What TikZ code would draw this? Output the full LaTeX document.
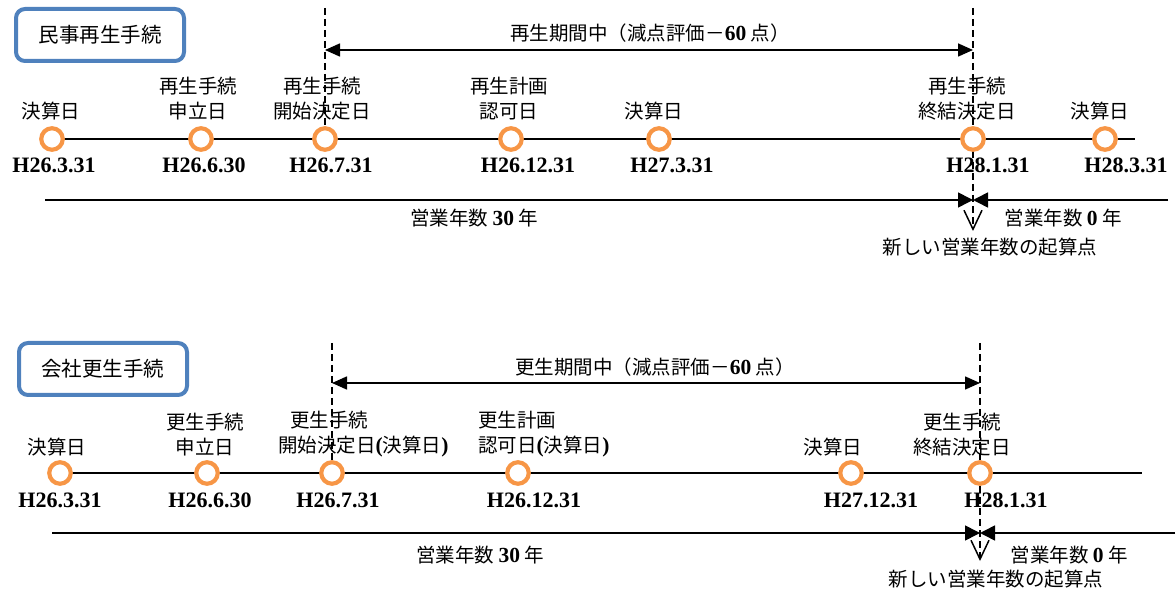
\documentclass[tikz,border=0pt]{standalone}
\usepackage{fontspec}
\setmainfont{Noto Sans CJK JP}
\newfontfamily\numfont{Liberation Serif}
\usetikzlibrary{arrows.meta}
\newcommand\bnum[1]{{\numfont\bfseries\fontsize{21.5}{25}\selectfont #1}}

\begin{document}
\begin{tikzpicture}[x=1pt, y=-1pt,
  every node/.style={font=\fontsize{19.5}{25}\selectfont, inner sep=0pt},
  lbl/.style={align=center},
  lbll/.style={align=left, anchor=west},
  datelbl/.style={font=\numfont\bfseries\fontsize{22}{25}\selectfont},
  pt/.style={circle, draw=ptorange, line width=4.2pt, fill=white, minimum size=21.5pt},
  titlebox/.style={draw=boxblue, line width=4pt, rounded corners=9pt, minimum width=168pt, minimum height=52pt, font=\fontsize{20.5}{25}\selectfont},
  axis/.style={line width=1.6pt},
  period/.style={line width=1.6pt, {Triangle[length=15pt,width=13pt]}-{Triangle[length=15pt,width=13pt]}},
  marker/.style={line width=1.3pt, dash pattern=on 7pt off 4pt},
  endmark/.style={marker, -{Straight Barb[length=19pt,width=18pt,line width=1.5pt]}},
  tipr/.style={axis, -{Triangle[length=15pt,width=15pt]}}]
\definecolor{ptorange}{HTML}{F79646}
\definecolor{boxblue}{HTML}{4F81BD}
\useasboundingbox (0,0) rectangle (1176,593);

\node[titlebox] (mt) at (100,35) {民事再生手続};
\coordinate (ms0) at (325,8); \coordinate (ms1) at (325,139);
\coordinate (me0) at (973,8); \coordinate (me1) at (973,231);
\coordinate (mp0) at (325,50); \coordinate (mp1) at (973,50);
\coordinate (ma0) at (52,139); \coordinate (ma1) at (1135,139);
\coordinate (mb0) at (45,200); \coordinate (mb1) at (973,200); \coordinate (mb2) at (1168,200);
\draw[axis] (ma0) -- (ma1);
\draw[marker] (ms0) -- (ms1);
\draw[endmark] (me0) -- (me1);
\draw[period] (mp0) -- (mp1);
\node (mpl) at (650,33) {再生期間中（減点評価－\bnum{60} 点）};
\node[pt] (mc1) at (52,139) {};
\node[pt] (mc2) at (201,139) {};
\node[pt] (mc3) at (325,139) {};
\node[pt] (mc4) at (511,139) {};
\node[pt] (mc5) at (659,139) {};
\node[pt] (mc6) at (973,139) {};
\node[pt] (mc7) at (1105,139) {};
\node[lbl] (ml1) at (51,111) {決算日};
\node[lbl] (ml2) at (198,99) {再生手続\\申立日};
\node[lbl] (ml3) at (322,99) {再生手続\\開始決定日};
\node[lbl] (ml4) at (509,99) {再生計画\\認可日};
\node[lbl] (ml5) at (654,111) {決算日};
\node[lbl] (ml6) at (967,99) {再生手続\\終結決定日};
\node[lbl] (ml7) at (1100,111) {決算日};
\node[datelbl] (md1) at (54,165) {H26.3.31};
\node[datelbl] (md2) at (204,165) {H26.6.30};
\node[datelbl] (md3) at (331,165) {H26.7.31};
\node[datelbl] (md4) at (528,165) {H26.12.31};
\node[datelbl] (md5) at (672,165) {H27.3.31};
\node[datelbl] (md6) at (988,165) {H28.1.31};
\node[datelbl] (md7) at (1126,165) {H28.3.31};
\draw[tipr] (mb0) -- (mb1);
\draw[tipr] (mb2) -- (mb1);
\node (my1) at (474,218) {営業年数 \bnum{30} 年};
\node (my2) at (1063,218) {営業年数 \bnum{0} 年};
\node (mns) at (990,247) {新しい営業年数の起算点};

\node[titlebox] (kt) at (103,369) {会社更生手続};
\coordinate (ks0) at (332,343); \coordinate (ks1) at (332,473);
\coordinate (ke0) at (980,343); \coordinate (ke1) at (980,561);
\coordinate (kp0) at (332,383); \coordinate (kp1) at (980,383);
\coordinate (ka0) at (60,473); \coordinate (ka1) at (1142,473);
\coordinate (kb0) at (52,533); \coordinate (kb1) at (980,533); \coordinate (kb2) at (1175,533);
\draw[axis] (ka0) -- (ka1);
\draw[marker] (ks0) -- (ks1);
\draw[endmark] (ke0) -- (ke1);
\draw[period] (kp0) -- (kp1);
\node (kpl) at (655,367) {更生期間中（減点評価－\bnum{60} 点）};
\node[pt] (kc1) at (60,473) {};
\node[pt] (kc2) at (207,473) {};
\node[pt] (kc3) at (332,473) {};
\node[pt] (kc4) at (518,473) {};
\node[pt] (kc5) at (851,473) {};
\node[pt] (kc6) at (980,473) {};
\node[lbl] (kl1) at (57,447) {決算日};
\node[lbl] (kl2) at (205,434.5) {更生手続\\申立日};
\node[lbll] (kl3) at (278,434.5) {\hspace*{12pt}更生手続\\開始決定日\bnum{(}決算日\bnum{)}};
\node[lbll] (kl4) at (478,434.5) {更生計画\\認可日\bnum{(}決算日\bnum{)}};
\node[lbl] (kl5) at (833,447) {決算日};
\node[lbl] (kl6) at (962,434.5) {更生手続\\終結決定日};
\node[datelbl] (kd1) at (60,500) {H26.3.31};
\node[datelbl] (kd2) at (210,500) {H26.6.30};
\node[datelbl] (kd3) at (338,500) {H26.7.31};
\node[datelbl] (kd4) at (534,500) {H26.12.31};
\node[datelbl] (kd5) at (871,500) {H27.12.31};
\node[datelbl] (kd6) at (1006,500) {H28.1.31};
\draw[tipr] (kb0) -- (kb1);
\draw[tipr] (kb2) -- (kb1);
\node (ky1) at (480,555) {営業年数 \bnum{30} 年};
\node (ky2) at (1069,555) {営業年数 \bnum{0} 年};
\node (kns) at (996,579) {新しい営業年数の起算点};
\end{tikzpicture}
\end{document}
